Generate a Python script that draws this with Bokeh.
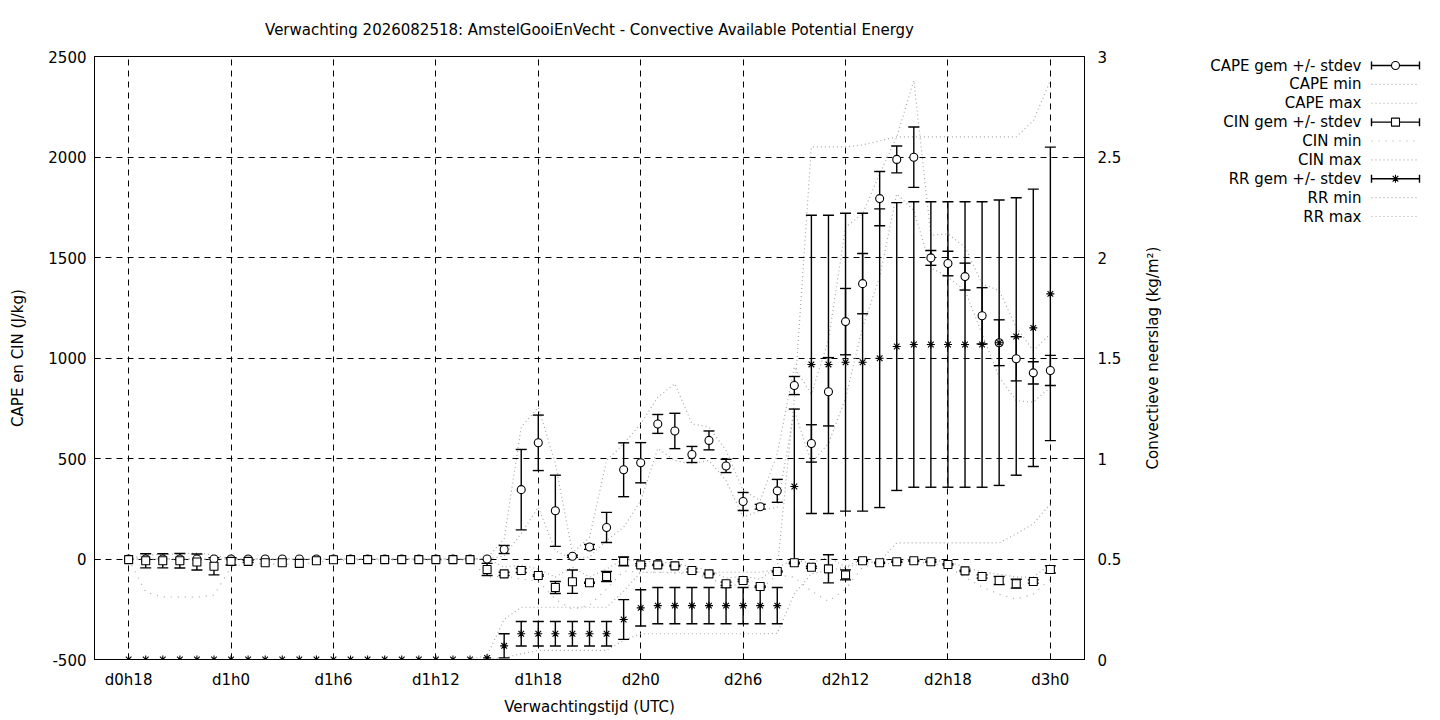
import math
from bokeh.plotting import figure
from bokeh.models import Range1d, LinearAxis, FixedTicker
from bokeh.layouts import row
from bokeh.embed import file_html
from bokeh.resources import INLINE
from bokeh.core.properties import value

FONT = "DejaVu Sans"
FS = "15px"

title_text = "Verwachting 2026082518: AmstelGooiEnVecht - Convective Available Potential Energy"
x_label = "Verwachtingstijd (UTC)"
y_label = "CAPE en CIN (J/kg)"
y2_label = "Convectieve neerslag (kg/m²)"

hours = list(range(18, 73))
tick_hours = [18, 24, 30, 36, 42, 48, 54, 60, 66, 72]
tick_labels = ["d0h18", "d1h0", "d1h6", "d1h12", "d1h18", "d2h0", "d2h6", "d2h12", "d2h18", "d3h0"]
left_ticks = [-500, 0, 500, 1000, 1500, 2000, 2500]
left_tick_labels = ["-500", "0", "500", "1000", "1500", "2000", "2500"]
right_ticks = [0, 0.5, 1, 1.5, 2, 2.5, 3]
right_tick_labels = ["0", "0.5", "1", "1.5", "2", "2.5", "3"]

cape_mean = [0] * 22 + [47, 345, 578, 240, 14, 60, 157, 444, 479, 672, 637, 520, 590, 463, 286, 260, 339,
                        863, 575, 832, 1181, 1370, 1793, 1988, 1999, 1498, 1470, 1405, 1210, 1076, 996, 926, 938]
cape_std = [0] * 22 + [20, 200, 138, 177, 5, 12, 75, 134, 100, 47, 88, 40, 47, 33, 45, 12, 57,
                       45, 93, 170, 165, 150, 135, 67, 150, 37, 61, 67, 140, 114, 110, 55, 75]
cape_min = [0] * 22 + [15, 127, 258, 42, 0, 9, 92, 158, 290, 550, 490, 474, 490, 390, 208, 241, 258,
                       739, 480, 575, 800, 1153, 1402, 1817, 1734, 1450, 1402, 1336, 1120, 905, 788, 780, 855]
cape_max = [0] * 21 + [5, 100, 656, 755, 474, 30, 108, 490, 573, 673, 805, 872, 673, 656, 540, 341, 291, 523,
                       955, 820, 1090, 1651, 1717, 1916, 2099, 2381, 1610, 1618, 1551, 1369, 1336, 1153, 1037, 1120]

cin_mean = [-3, -9, -9, -9, -15, -36, -12, -12, -19, -19, -22, -9, -4] + [-3] * 8 + \
           [-52, -74, -57, -82, -142, -113, -118, -87, -12, -29, -29, -34, -57, -74, -123, -107, -137, -62,
            -19, -41, -49, -79, -9, -19, -14, -9, -14, -27, -59, -87, -107, -123, -112, -52]
cin_std = [0, 35, 35, 36, 40, 43, 18, 5, 0, 0, 0, 0, 0] + [0] * 8 + \
          [30, 8, 10, 4, 30, 58, 3, 25, 22, 5, 3, 3, 8, 3, 8, 5, 3, 3,
           3, 5, 70, 25, 3, 3, 3, 3, 3, 3, 3, 8, 20, 22, 8, 18]
cin_min = [0, -165, -188, -190, -190, -180, -40, -20, -25, -25, -28, -15, -8] + [-5] * 8 + \
          [-90, -85, -100, -110, -200, -250, -230, -150, -60, -66, -66, -70, -75, -90, -135, -125, -150, -80,
           -90, -160, -210, -150, -40, -25, -20, -15, -20, -40, -90, -140, -175, -200, -175, -100]
cin_max = [0, 20, 22, 25, 30, 20, 0, 0, 0, 0, 0, 0, 0] + [0] * 8 + \
          [0, -40, -30, -50, -90, -40, -90, -50, 0, -10, -15, -20, -40, -55, -95, -85, -100, -40,
           -5, -20, 10, -40, 0, -5, -5, 0, -5, -15, -40, -65, -75, -90, -90, -25]

rr_mean = [0] * 21 + [0.008, 0.068, 0.128, 0.128, 0.128, 0.128, 0.128, 0.128, 0.199, 0.257] + [0.268] * 8 + \
          [0.861, 1.468, 1.468, 1.479, 1.479, 1.499, 1.557, 1.567, 1.567, 1.567, 1.567, 1.567, 1.576, 1.607, 1.65, 1.819]
rr_std = [0] * 21 + [0, 0.06, 0.061, 0.061, 0.061, 0.061, 0.061, 0.061, 0.099, 0.09] + [0.09] * 8 + \
         [0.385, 0.742, 0.742, 0.741, 0.741, 0.743, 0.716, 0.71, 0.71, 0.71, 0.71, 0.71, 0.71, 0.69, 0.69, 0.73]
rr_min = [0] * 22 + [0.01, 0.028, 0.045, 0.045, 0.045, 0.045, 0.045, 0.095] + [0.128] * 8 + \
         [0.13, 0.327, 0.426, 0.443, 0.459, 0.476, 0.49] + [0.58] * 7 + [0.625, 0.675, 0.775]
rr_max = [0] * 21 + [0.02, 0.2] + [0.26] * 6 + [0.34] + [0.434] * 8 + \
         [0.45, 1.3, 2.55, 2.55, 2.55, 2.56, 2.58] + [2.6] * 8 + [2.68, 2.88]

legend_labels = ["CAPE gem +/- stdev", "CAPE min", "CAPE max", "CIN gem +/- stdev", "CIN min",
                 "CIN max", "RR gem +/- stdev", "RR min", "RR max"]

GRAY = "#a8a8a8"

p = figure(frame_width=990, frame_height=603, x_range=Range1d(16, 74), y_range=Range1d(-500, 2500),
           output_backend="svg", toolbar_location=None,
           min_border_left=94, min_border_right=45, min_border_top=56, min_border_bottom=0)
p.extra_y_ranges = {"rr": Range1d(0, 3)}

p.title.text = title_text
p.title.align = "center"
p.title.text_font = FONT
p.title.text_font_size = FS
p.title.text_font_style = "normal"
p.title.text_color = "black"
p.title.standoff = 36

p.outline_line_color = "black"
p.outline_line_width = 1
p.background_fill_color = "white"

for ax in [p.xaxis[0], p.yaxis[0]]:
    ax.axis_line_color = "black"
    ax.major_tick_line_color = "black"
    ax.major_tick_in = 6
    ax.major_tick_out = 0
    ax.minor_tick_line_color = None
    ax.major_label_text_font = FONT
    ax.major_label_text_font_size = FS
    ax.major_label_text_color = "black"
    ax.axis_label_text_font = FONT
    ax.axis_label_text_font_size = FS
    ax.axis_label_text_font_style = "normal"
    ax.axis_label_text_color = "black"

p.xaxis.ticker = FixedTicker(ticks=tick_hours)
p.xaxis.major_label_overrides = {h: lab for h, lab in zip(tick_hours, tick_labels)}
p.xaxis.axis_label = x_label
p.xaxis.major_label_standoff = 11
p.xaxis.axis_label_standoff = 6

p.yaxis.ticker = FixedTicker(ticks=left_ticks)
p.yaxis.major_label_overrides = {t: s for t, s in zip(left_ticks, left_tick_labels)}
p.yaxis.axis_label = y_label
p.yaxis.major_label_standoff = 8
p.yaxis.axis_label_standoff = 18

ra = LinearAxis(y_range_name="rr", ticker=FixedTicker(ticks=right_ticks),
                major_label_overrides={t: s for t, s in zip(right_ticks, right_tick_labels)})
ra.axis_line_color = "black"
ra.major_tick_line_color = "black"
ra.major_tick_in = 6
ra.major_tick_out = 0
ra.minor_tick_line_color = None
ra.major_label_text_font = FONT
ra.major_label_text_font_size = FS
ra.major_label_text_color = "black"
ra.major_label_standoff = 13
p.add_layout(ra, "right")

for g in [p.xgrid[0], p.ygrid[0]]:
    g.grid_line_color = "black"
    g.grid_line_dash = "6 5"
    g.grid_line_width = 1
    g.grid_line_alpha = 1.0
p.xgrid.ticker = FixedTicker(ticks=tick_hours)
p.ygrid.ticker = FixedTicker(ticks=left_ticks)

# min / max lines
p.line(hours, cape_min, line_color=GRAY, line_dash="1 3", line_width=1.2)
p.line(hours, cape_max, line_color=GRAY, line_dash="1 3", line_width=1.2)
p.line(hours, cin_min, line_color=GRAY, line_dash="1 6", line_width=1.2)
p.line(hours, cin_max, line_color=GRAY, line_dash="1 3", line_width=1.2)
p.line(hours, rr_min, line_color=GRAY, line_dash="1 3", line_width=1.2, y_range_name="rr")
p.line(hours, rr_max, line_color=GRAY, line_dash="1 3", line_width=1.2, y_range_name="rr")


def errorbars(mean, std, rng=None):
    kw = {} if rng is None else {"y_range_name": rng}
    xs = [h for h, s in zip(hours, std) if s > 0]
    lo = [m - s for m, s in zip(mean, std) if s > 0]
    hi = [m + s for m, s in zip(mean, std) if s > 0]
    p.segment(x0=xs, y0=lo, x1=xs, y1=hi, line_color="black", line_width=1.4, **kw)
    p.scatter(xs + xs, lo + hi, marker="dash", size=11, line_color="black", line_width=1.4, **kw)


errorbars(cape_mean, cape_std)
errorbars(cin_mean, cin_std)
errorbars(rr_mean, rr_std, "rr")

p.scatter(hours, cape_mean, marker="circle", size=8, fill_color="white", line_color="black", line_width=1.1)
p.scatter(hours, cin_mean, marker="square", size=8, fill_color="white", line_color="black", line_width=1.1)
p.scatter(hours, rr_mean, marker="asterisk", size=8, line_color="black", line_width=1.1, y_range_name="rr")

# side panel in page-pixel coordinates: right axis title + gnuplot-style key
PX0, PX1 = 1130, 1432
lf = figure(frame_width=PX1 - PX0, frame_height=603, x_range=Range1d(PX0, PX1), y_range=Range1d(659, 56),
            output_backend="svg", toolbar_location=None, x_axis_type=None, y_axis_type=None,
            min_border=0)
lf.outline_line_color = None
lf.grid.visible = False

lf.text(x=[1153], y=[357.5], text=[y2_label], angle=math.pi / 2, text_align="center",
        text_baseline="middle", text_font=value(FONT), text_font_size=FS, text_color="black")

rows_y = [65 + 18.875 * k for k in range(len(legend_labels))]
lf.text(x=[1362] * len(legend_labels), y=rows_y, text=legend_labels, text_align="right",
        text_baseline="middle", text_font=value(FONT), text_font_size=FS, text_color="black")

stdev_rows = [rows_y[0], rows_y[3], rows_y[6]]
lf.segment(x0=[1372] * 3, y0=stdev_rows, x1=[1420] * 3, y1=stdev_rows, line_color="black", line_width=1.4)
lf.segment(x0=[1372] * 3 + [1420] * 3, y0=[y - 4 for y in stdev_rows] * 2,
           x1=[1372] * 3 + [1420] * 3, y1=[y + 4 for y in stdev_rows] * 2, line_color="black", line_width=1.4)
lf.scatter([1396], [rows_y[0]], marker="circle", size=8, fill_color="white", line_color="black", line_width=1.1)
lf.scatter([1396], [rows_y[3]], marker="square", size=8, fill_color="white", line_color="black", line_width=1.1)
lf.scatter([1396], [rows_y[6]], marker="asterisk", size=8, line_color="black", line_width=1.1)

for k in [1, 2, 5, 7, 8]:
    lf.line([1372, 1420], [rows_y[k], rows_y[k]], line_color=GRAY, line_dash="1 3", line_width=1.2)
lf.line([1372, 1420], [rows_y[4], rows_y[4]], line_color=GRAY, line_dash="1 6", line_width=1.2)

layout = row(p, lf)
open("out.html", "w").write(file_html(layout, INLINE))
